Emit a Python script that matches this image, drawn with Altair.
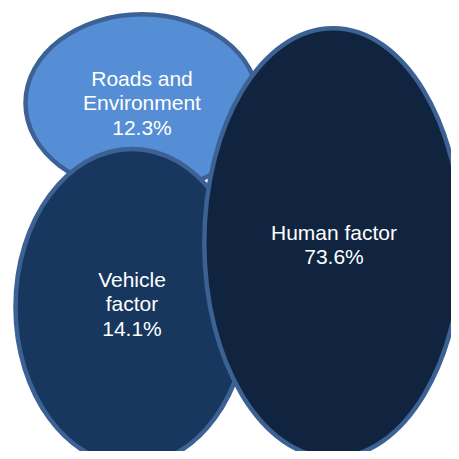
import altair as alt
import pandas as pd

# Data
categories = ["Roads and Environment", "Vehicle factor", "Human factor"]
values = [12.3, 14.1, 73.6]
label_lines = [["Roads and", "Environment"], ["Vehicle", "factor"], ["Human factor"]]

# Layout (page pixel coordinates of ellipse centres and radii)
cx = [142, 132, 333]
cy = [103, 307, 243]
rx = [116.5, 116.5, 128.7]
ry = [88.7, 158, 214.7]
text_x = [142, 132, 334]
text_y = [79.7, 280.7, 233.7]
fills = ["#558ED5", "#17375E", "#10243F"]

rows = []
for i, c in enumerate(categories):
    a = rx[i] / ry[i]
    path = f"M {-a} 0 A {a} 1 0 1 0 {a} 0 A {a} 1 0 1 0 {-a} 0 Z"
    rows.append({
        "category": c,
        "order": i,
        "cx": cx[i],
        "cy": cy[i],
        "tx": text_x[i],
        "ty": text_y[i],
        "size": (2 * ry[i]) ** 2,
        "shape": path,
        "label": label_lines[i] + [f"{values[i]}%"],
    })
df = pd.DataFrame(rows)

W = 443
xs = alt.Scale(domain=[8, 8 + W])
ys = alt.Scale(domain=[8 + W, 8])

base = alt.Chart(df)

ellipses = base.mark_point(filled=True, opacity=1, stroke="#3C6194", strokeWidth=4.5).encode(
    x=alt.X("cx:Q", scale=xs, axis=None),
    y=alt.Y("cy:Q", scale=ys, axis=None),
    size=alt.Size("size:Q", scale=None, legend=None),
    shape=alt.Shape("shape:N", scale=None, legend=None),
    fill=alt.Fill("category:N", scale=alt.Scale(domain=categories, range=fills), legend=None),
    order=alt.Order("order:Q"),
)

labels = base.mark_text(
    color="white", font="Liberation Sans", fontSize=21, lineHeight=24.7,
    align="center", baseline="middle",
).encode(
    x=alt.X("tx:Q", scale=xs, axis=None),
    y=alt.Y("ty:Q", scale=ys, axis=None),
    text="label",
)

chart = alt.layer(ellipses, labels).properties(
    width=W, height=W, padding=0,
    autosize=alt.AutoSizeParams(type="none"),
).configure_view(stroke=None)

chart.save("out.html", embed_options={"renderer": "svg", "actions": False})
